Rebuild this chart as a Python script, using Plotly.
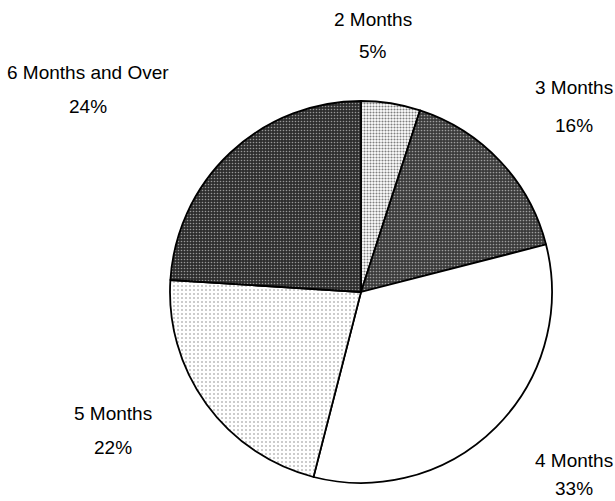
import plotly.graph_objects as go

categories = ["2 Months", "3 Months", "4 Months", "5 Months", "6 Months and Over"]
values = [5, 16, 33, 22, 24]
pct_labels = ["5%", "16%", "33%", "22%", "24%"]

bg_colors = ["#ffffff", "#3a3a3a", "#ffffff", "#ffffff", "#2e2e2e"]
fg_colors = ["#000000", "#ffffff", "#ffffff", "#777777", "#ffffff"]
shapes = [".", ".", "", ".", "."]
solidities = [0.4, 0.25, 0.1, 0.2, 0.22]
sizes = [3, 3, 3, 4, 3]

# label anchor positions in pixels: x, y of name line, y of percent line
label_x = [373, 574, 574, 113, 88]
name_y = [19, 88, 460, 413, 73]
pct_y = [52, 126, 488, 447, 106]

cx, cy, r = 361, 292, 191

fig = go.Figure(
    go.Pie(
        labels=categories,
        values=values,
        sort=False,
        direction="clockwise",
        rotation=0,
        textinfo="none",
        hoverinfo="label+percent",
        marker=dict(
            colors=bg_colors,
            line=dict(color="#000000", width=1.8),
            pattern=dict(
                shape=shapes,
                fgcolor=fg_colors,
                bgcolor=bg_colors,
                solidity=solidities,
                size=sizes,
                fillmode="overlay",
            ),
        ),
        domain=dict(x=[(cx - r) / 615, (cx + r) / 615],
                    y=[(501 - cy - r) / 501, (501 - cy + r) / 501]),
    )
)

font = dict(family="Liberation Sans, Arial, sans-serif", size=19, color="#000000")
annotations = []
for i, name in enumerate(categories):
    annotations.append(dict(text=name, x=label_x[i] / 615, y=1 - name_y[i] / 501,
                            xref="paper", yref="paper", showarrow=False,
                            xanchor="center", yanchor="middle", font=font))
    annotations.append(dict(text=pct_labels[i], x=label_x[i] / 615, y=1 - pct_y[i] / 501,
                            xref="paper", yref="paper", showarrow=False,
                            xanchor="center", yanchor="middle", font=font))

fig.update_layout(
    width=615,
    height=501,
    margin=dict(l=0, r=0, t=0, b=0),
    paper_bgcolor="#ffffff",
    plot_bgcolor="#ffffff",
    showlegend=False,
    annotations=annotations,
)

fig.write_html(
    "out.html",
    config={"displayModeBar": False},
    post_script="document.body.style.margin='0px';document.body.style.overflow='hidden';",
)
